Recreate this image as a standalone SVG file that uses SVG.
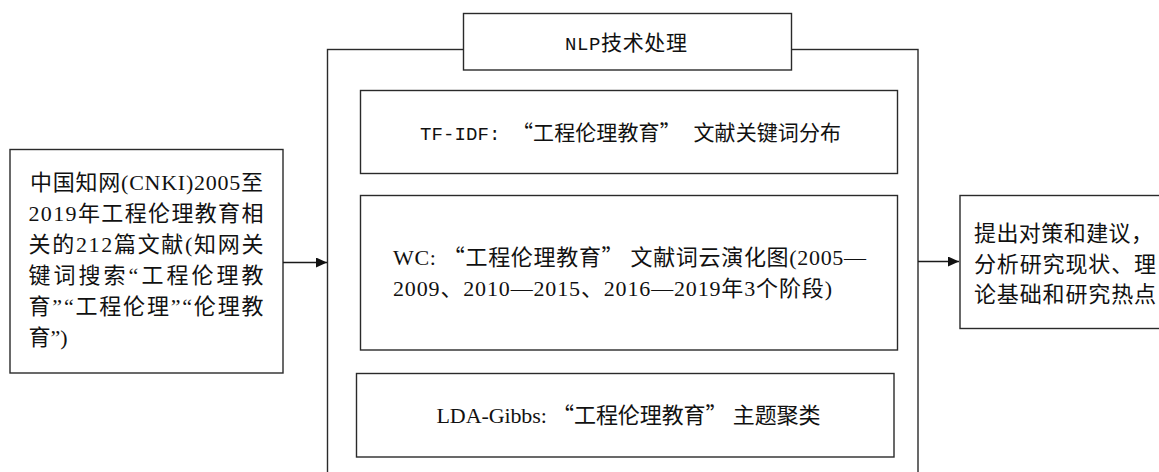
<svg xmlns="http://www.w3.org/2000/svg" width="1159" height="472" viewBox="0 0 1159 472">
<defs>
<style>
.box{fill:#fff;stroke:#2a2a2a;stroke-width:1.4}
.ln{fill:none;stroke:#1a1a1a;stroke-width:1.4}
.serif{font-family:"Liberation Serif","Noto Sans CJK SC",serif;font-size:22px;fill:#111}
.mono{font-family:"Liberation Mono","Noto Sans CJK SC",monospace;font-size:21px;fill:#111}
.lat{font-size:19px}
.cjk{font-family:"Noto Sans CJK SC",sans-serif}
</style>
<marker id="arr" markerWidth="12" markerHeight="10" refX="11" refY="5" orient="auto" markerUnits="userSpaceOnUse">
<path d="M0,0 L11,5 L0,10 Z" fill="#111"/>
</marker>
</defs>
<rect width="1159" height="472" fill="#fff"/>
<g id="outer">
<rect class="box" x="327.5" y="49.5" width="590.5" height="440"/>
</g>
<g id="nlp">
<rect class="box" x="463.5" y="13.5" width="328" height="56.5"/>
<text class="mono" x="565" y="50" textLength="122"><tspan class="lat">NLP</tspan>技术处理</text>
</g>
<g id="source">
<rect class="box" x="10" y="149.5" width="273" height="223.5"/>
<text class="serif" x="30" y="190" textLength="233">中国知网(CNKI)2005至</text>
<text class="serif" x="28.5" y="221" textLength="235">2019年工程伦理教育相</text>
<text class="serif" x="28.5" y="252" textLength="235">关的212篇文献(知网关</text>
<text class="serif" x="28.5" y="283" textLength="235">键词搜索“工程伦理教</text>
<text class="serif" x="28.5" y="314" textLength="235">育”“工程伦理”“伦理教</text>
<text class="serif" x="28.5" y="345">育”)</text>
</g>
<g id="tfidf">
<rect class="box" x="360.5" y="90.5" width="537" height="83"/>
<text class="mono" x="420" y="140" textLength="421"><tspan class="lat">TF-IDF: </tspan><tspan class="cjk">“</tspan>工程伦理教育<tspan class="cjk">”</tspan> 文献关键词分布</text>
</g>
<g id="wc">
<rect class="box" x="360.5" y="195.5" width="537" height="154.5"/>
<text class="serif" x="393" y="265" textLength="473">WC: <tspan class="cjk">“</tspan>工程伦理教育<tspan class="cjk">”</tspan> 文献词云演化图(2005—</text>
<text class="serif" x="393" y="296" textLength="439">2009、2010—2015、2016—2019年3个阶段)</text>
</g>
<g id="lda">
<rect class="box" x="356.5" y="373.5" width="537.5" height="83.5"/>
<text class="serif" x="436.5" y="423" textLength="384">LDA-Gibbs: <tspan class="cjk">“</tspan>工程伦理教育<tspan class="cjk">”</tspan> 主题聚类</text>
</g>
<g id="result">
<rect class="box" x="960" y="195.5" width="240" height="133"/>
<text class="serif" x="974" y="241" textLength="179">提出对策和建议，</text>
<text class="serif" x="974" y="272" textLength="182">分析研究现状、理</text>
<text class="serif" x="974" y="302" textLength="182">论基础和研究热点</text>
</g>
<g id="connectors">
<line class="ln" x1="283" y1="262.5" x2="327" y2="262.5" marker-end="url(#arr)"/>
<line class="ln" x1="918" y1="261.5" x2="959" y2="261.5" marker-end="url(#arr)"/>
</g>
</svg>
